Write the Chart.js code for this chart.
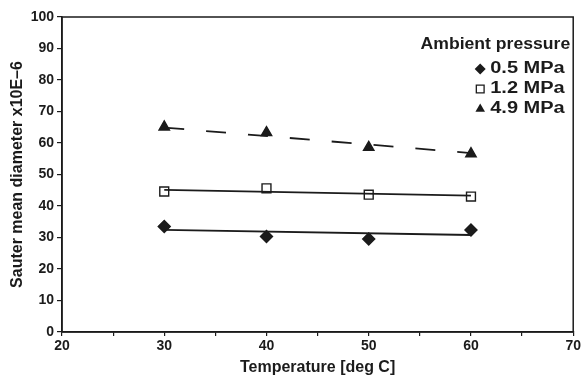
<!DOCTYPE html>
<html>
<head>
<meta charset="utf-8">
<script src="https://cdn.jsdelivr.net/npm/chart.js@4.4.1/dist/chart.umd.min.js"></script>
<style>
    html, body { margin: 0; padding: 0; background: #fff; }
    #wrap { width: 583px; height: 378px; }
</style>
</head>
<body>
<div id="wrap"><canvas id="chart" width="583" height="378"></canvas></div>
<script>
const temps = [30, 40, 50, 60]
const d05 = [33.5, 30.3, 29.5, 32.4]
const d12 = [44.6, 45.6, 43.6, 43.0]
const d49 = [65.1, 63.3, 58.6, 56.6]

// trend line end points
const trendX = [30, 60]
const t05 = [32.4, 30.8]
const t12 = [45.1, 43.3]
const t49 = [64.9, 56.8]

const seriesNames = ['0.5 MPa', '1.2 MPa', '4.9 MPa']
const legendTitle = 'Ambient pressure'
const xTicks = [20, 30, 40, 50, 60, 70]

const ink = '#1b1b1b'
const fontFamily = '"Liberation Sans", Arial, sans-serif'

const pts = (xs, ys) => xs.map((x, i) => ({ x: x, y: ys[i] }))

const frame = {
    id: 'frame',
    afterDraw(chart) {
        const { ctx, chartArea: a } = chart
        ctx.save()
        ctx.strokeStyle = ink
        ctx.lineWidth = 1.5
        ctx.strokeRect(a.left, a.top, a.right - a.left, a.bottom - a.top)
        ctx.restore()
    }
}

function drawSymbol(ctx, style, x, y, r) {
    ctx.beginPath()
    if (style === 'rectRot') {
        ctx.moveTo(x, y - r); ctx.lineTo(x + r, y); ctx.lineTo(x, y + r); ctx.lineTo(x - r, y)
        ctx.closePath(); ctx.fill()
    } else if (style === 'rect') {
        const s = r * Math.SQRT1_2
        ctx.rect(x - s, y - s, 2 * s, 2 * s)
        ctx.fillStyle = '#fff'; ctx.fill(); ctx.stroke()
        ctx.fillStyle = ink
    } else {
        ctx.moveTo(x, y - r); ctx.lineTo(x + r * 0.87, y + r * 0.5); ctx.lineTo(x - r * 0.87, y + r * 0.5)
        ctx.closePath(); ctx.fill()
    }
}

// wide, heavy text like the scanned original
function wideText(ctx, text, x, y, stretch, align) {
    ctx.save()
    ctx.translate(x, y)
    ctx.scale(stretch, 1)
    ctx.textAlign = align
    ctx.fillText(text, 0, 0)
    ctx.restore()
}

const insideLegend = {
    id: 'insideLegend',
    afterDraw(chart) {
        const { ctx, chartArea: a } = chart
        ctx.save()
        ctx.fillStyle = ink
        ctx.strokeStyle = ink
        ctx.lineWidth = 1.3
        ctx.font = 'bold 16px ' + fontFamily
        ctx.textBaseline = 'middle'
        wideText(ctx, legendTitle, a.right - 3, a.top + 28, 1.1, 'right')
        chart.data.datasets.filter(d => d.inLegend).forEach((d, i) => {
            const y = a.top + 52 + i * 20
            drawSymbol(ctx, d.pointStyle, a.right - 93, y, 5.5)
            ctx.fillStyle = ink
            wideText(ctx, d.label, a.right - 83, y, 1.25, 'left')
        })
        ctx.restore()
    }
}

const markerSet = (label, data, style, radius, fill) => ({
    label: label,
    data: pts(temps, data),
    inLegend: true,
    showLine: false,
    pointStyle: style,
    pointRadius: radius,
    pointBackgroundColor: fill,
    pointBorderColor: ink,
    pointBorderWidth: 1.4
})

const trendSet = (data, dash) => ({
    label: '',
    data: pts(trendX, data),
    showLine: true,
    borderColor: ink,
    borderWidth: 1.8,
    borderDash: dash,
    pointRadius: 0
})

new Chart(document.getElementById('chart').getContext('2d'), {
    type: 'scatter',
    data: {
        datasets: [
            trendSet(t05, []),
            trendSet(t12, []),
            trendSet(t49, [20, 22]),
            markerSet(seriesNames[0], d05, 'rectRot', 6, ink),
            markerSet(seriesNames[1], d12, 'rect', 6.3, '#fff'),
            markerSet(seriesNames[2], d49, 'triangle', 6, ink)
        ]
    },
    options: {
        responsive: false,
        animation: false,
        layout: { padding: { left: 0, right: 8, top: 17, bottom: 0 } },
        plugins: {
            legend: { display: false },
            tooltip: { enabled: false }
        },
        scales: {
            x: {
                type: 'linear',
                min: 20,
                max: 70,
                border: { color: ink, width: 1.5 },
                grid: { display: true, drawOnChartArea: false, color: ink, tickLength: 4, lineWidth: 1.2 },
                ticks: {
                    stepSize: 5,
                    autoSkip: false,
                    maxRotation: 0,
                    padding: 2,
                    color: ink,
                    font: { family: fontFamily, size: 14, weight: 'bold' },
                    callback: v => xTicks.includes(v) ? v : ''
                },
                title: {
                    display: true,
                    text: 'Temperature [deg C]',
                    color: ink,
                    font: { family: fontFamily, size: 16, weight: 'bold' },
                    padding: { top: 0, bottom: 1 }
                },
                afterFit: s => { s.height = 46 }
            },
            y: {
                min: 0,
                max: 100,
                border: { color: ink, width: 1.5 },
                grid: { display: true, drawOnChartArea: false, color: ink, tickLength: 5, lineWidth: 1.2 },
                ticks: {
                    stepSize: 10,
                    padding: 3,
                    color: ink,
                    font: { family: fontFamily, size: 14, weight: 'bold' }
                },
                title: {
                    display: true,
                    text: 'Sauter mean diameter x10E\u20136',
                    color: ink,
                    font: { family: fontFamily, size: 16, weight: 'bold' },
                    padding: { top: 8, bottom: 0 }
                },
                afterFit: s => { s.width = 62 }
            }
        }
    },
    plugins: [frame, insideLegend]
})
</script>
</body>
</html>
